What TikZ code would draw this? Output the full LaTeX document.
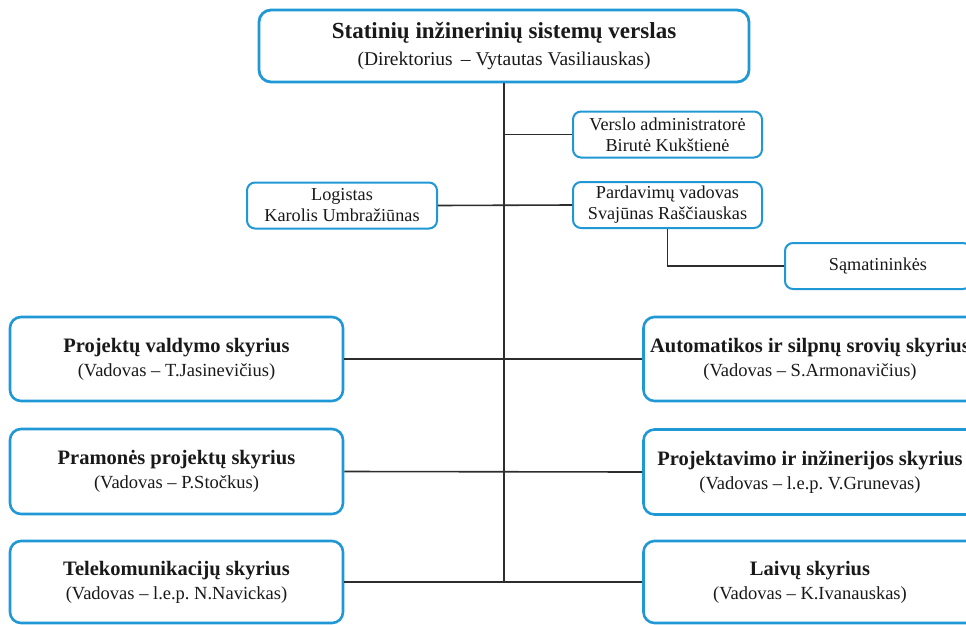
\documentclass[tikz,border=0pt]{standalone}
\usepackage{fontspec}
\setmainfont{Liberation Serif}
\frenchspacing
\definecolor{boxblue}{RGB}{33,152,214}
\definecolor{txt}{RGB}{25,25,25}
\definecolor{conn}{RGB}{45,45,45}
\tikzset{
  bigbox/.style={draw=boxblue, line width=2.6pt, rounded corners=11pt, fill=white,
    minimum width=333pt, minimum height=84pt, inner sep=0pt, align=center, text=txt,
    font=\fontsize{18.5}{24}\selectfont},
  smallbox/.style={draw=boxblue, line width=2pt, rounded corners=8pt, fill=white,
    minimum width=189pt, minimum height=46pt, inner sep=0pt, align=center, text=txt,
    font=\fontsize{18.2}{21}\selectfont},
  topbox/.style={draw=boxblue, line width=2.8pt, rounded corners=12pt, fill=white,
    minimum width=490pt, minimum height=72pt, inner sep=0pt, align=center, text=txt,
    font=\fontsize{19.5}{27}\selectfont},
  connector/.style={draw=conn, line width=1.6pt}
}
\newcommand{\ttl}[1]{{\fontsize{20.5}{24}\selectfont\bfseries #1}}
\begin{document}
\begin{tikzpicture}[x=1pt,y=-1pt]
\useasboundingbox (0,0) rectangle (966,624);
\clip (0,0) rectangle (966,624);

\node[topbox] (top) at (504,46) {{\fontsize{23}{27}\selectfont\bfseries Statinių inžinerinių sistemų verslas}\\(Direktorius \,– Vytautas Vasiliauskas)};

\node[smallbox] (verslo) at (667.5,134.5) {Verslo administratorė\\Birutė Kukštienė};
\node[smallbox] (pard) at (667.5,205) {Pardavimų vadovas\\Svajūnas Raščiauskas};
\node[smallbox, minimum width=190pt] (logist) at (342,205.5) {Logistas\\Karolis Umbražiūnas};
\node[smallbox, minimum width=186pt] (samat) at (878,266) {Sąmatininkės};

\node[bigbox] (proj) at (176.5,359) {\ttl{Projektų valdymo skyrius}\\(Vadovas – T.Jasinevičius)};
\node[bigbox] (auto) at (810,359) {\ttl{Automatikos ir silpnų srovių skyrius}\\(Vadovas – S.Armonavičius)};
\node[bigbox, minimum height=85pt] (pram) at (176.5,471.5) {\ttl{Pramonės projektų skyrius}\\(Vadovas – P.Stočkus)};
\node[bigbox, minimum height=85pt] (projekt) at (810,472) {\ttl{Projektavimo ir inžinerijos skyrius}\\(Vadovas – l.e.p. V.Grunevas)};
\node[bigbox, minimum height=82pt] (tele) at (176.5,582) {\ttl{Telekomunikacijų skyrius}\\(Vadovas – l.e.p. N.Navickas)};
\node[bigbox, minimum height=82pt] (laiv) at (810,582) {\ttl{Laivų skyrius}\\(Vadovas – K.Ivanauskas)};

\draw[connector] (top.south) -- (top.south |- tele.east);
\draw[connector] (top.south |- verslo.west) -- (verslo.west);
\draw[connector] (logist.east) -- (pard.west);
\draw[connector] (pard.south) |- (samat.west);
\draw[connector] (proj.east) -- (auto.west);
\draw[connector] (pram.east) -- (projekt.west);
\draw[connector] (tele.east) -- (laiv.west);
\end{tikzpicture}
\end{document}
